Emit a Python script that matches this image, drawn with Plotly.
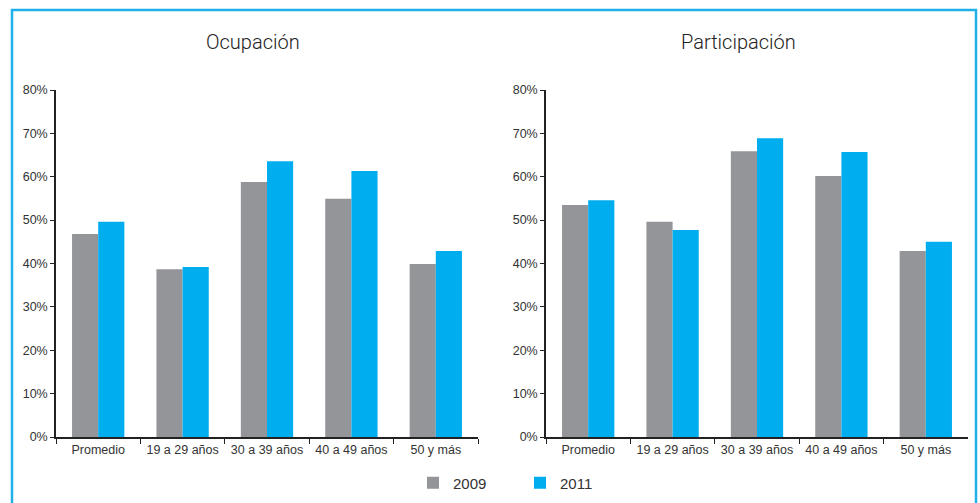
import plotly.graph_objects as go

categories = ["Promedio", "19 a 29 años", "30 a 39 años", "40 a 49 años", "50 y más"]
ocup_2009 = [46.8, 38.7, 58.8, 54.9, 39.9]
ocup_2011 = [49.6, 39.2, 63.6, 61.3, 42.9]
part_2009 = [53.5, 49.6, 65.9, 60.2, 42.9]
part_2011 = [54.6, 47.7, 68.9, 65.7, 45.0]
series_names = ["2009", "2011"]
titles = ["Ocupación", "Participación"]
tick_vals = [0, 10, 20, 30, 40, 50, 60, 70, 80]
tick_text = [f"{v}%" for v in tick_vals]

GRAY = "#939598"
BLUE = "#00aeef"
W, H = 980, 503

fig = go.Figure()
fig.add_trace(go.Bar(x=categories, y=ocup_2009, name=series_names[0], marker_color=GRAY,
                     xaxis="x", yaxis="y", legendgroup="a"))
fig.add_trace(go.Bar(x=categories, y=ocup_2011, name=series_names[1], marker_color=BLUE,
                     xaxis="x", yaxis="y", legendgroup="b"))
fig.add_trace(go.Bar(x=categories, y=part_2009, name=series_names[0], marker_color=GRAY,
                     xaxis="x2", yaxis="y2", showlegend=False, legendgroup="a"))
fig.add_trace(go.Bar(x=categories, y=part_2011, name=series_names[1], marker_color=BLUE,
                     xaxis="x2", yaxis="y2", showlegend=False, legendgroup="b"))
for t in fig.data:
    t.marker.line.width = 0

y0 = 1 - 437 / H
y1 = 1 - 90 / H
font_tick = dict(family="Liberation Sans, Arial, sans-serif", size=12.5, color="#333333")

xax = dict(type="category", range=[-0.5, 4.5], showline=True, linecolor="#222222", linewidth=1.5,
           ticks="outside", ticklen=5, tickcolor="#222222", tickson="boundaries", tickangle=0,
           showgrid=False, zeroline=False, tickfont=font_tick, fixedrange=True, automargin=False)
yax = dict(range=[0, 80], tickvals=tick_vals, ticktext=tick_text, showline=True,
           linecolor="#222222", linewidth=1.5, ticks="outside", ticklen=4, tickcolor="#222222",
           showgrid=False, zeroline=False, tickfont=font_tick, fixedrange=True, automargin=False)

fig.update_layout(
    width=W, height=H,
    margin=dict(l=0, r=0, t=0, b=0, autoexpand=False),
    paper_bgcolor="white", plot_bgcolor="white",
    barmode="group", bargap=0.38, bargroupgap=0,
    xaxis=dict(domain=[56 / W, 478 / W], anchor="y", **xax),
    yaxis=dict(domain=[y0, y1], anchor="x", **yax),
    xaxis2=dict(domain=[546 / W, 968 / W], anchor="y2", **xax),
    yaxis2=dict(domain=[y0, y1], anchor="x2", **yax),
    showlegend=True,
    legend=dict(orientation="h", x=413 / W, xanchor="left", y=1 - 483 / H, yanchor="middle",
                font=dict(family="Liberation Sans, Arial, sans-serif", size=15, color="#333333"),
                entrywidth=62, entrywidthmode="pixels", bgcolor="rgba(0,0,0,0)",
                itemclick=False, itemdoubleclick=False),
    shapes=[dict(type="rect", xref="paper", yref="paper", x0=12 / W, x1=976 / W,
                 y0=-0.05, y1=1 - 10 / H, line=dict(color="#1fb0ea", width=2.5),
                 fillcolor="rgba(0,0,0,0)", layer="below")],
    annotations=[
        dict(text=titles[0], x=253 / W, y=1 - 42 / H, xref="paper", yref="paper",
             showarrow=False, xanchor="center", yanchor="middle",
             font=dict(family="Roboto, Liberation Sans, sans-serif", size=20, weight=300, color="#222222")),
        dict(text=titles[1], x=738 / W, y=1 - 42 / H, xref="paper", yref="paper",
             showarrow=False, xanchor="center", yanchor="middle",
             font=dict(family="Roboto, Liberation Sans, sans-serif", size=20, weight=300, color="#222222")),
    ],
)

fig.write_html("out.html")
